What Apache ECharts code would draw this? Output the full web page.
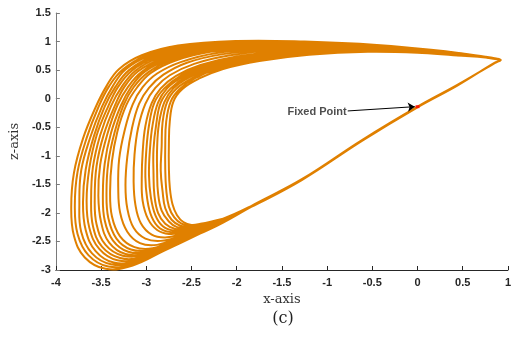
<!DOCTYPE html>
<html><head><meta charset="utf-8">
<script src="https://cdn.jsdelivr.net/npm/echarts/dist/echarts.min.js"></script>
<style>html,body{margin:0;padding:0;background:#fff}#c{width:514px;height:341px}</style>
</head><body><div id="c"></div>
<script>
// Loops of the trajectory (x, z), inner to outer
const loops = [
[[-2.15,-2.10],[-2.40,-2.19],[-2.50,-2.21],[-2.59,-2.16],[-2.66,-2.04],[-2.71,-1.85],[-2.74,-1.55],[-2.75,-1.20],[-2.75,-0.80],[-2.74,-0.40],[-2.70,-0.05],[-2.60,0.17],[-2.42,0.35],[-2.15,0.52],[-1.75,0.66],[-1.20,0.77],[-0.55,0.82],[0.05,0.80],[0.50,0.75]],
[[-2.15,-2.10],[-2.40,-2.20],[-2.51,-2.23],[-2.61,-2.19],[-2.69,-2.08],[-2.75,-1.89],[-2.78,-1.58],[-2.79,-1.23],[-2.79,-0.82],[-2.78,-0.41],[-2.73,-0.05],[-2.63,0.17],[-2.46,0.36],[-2.19,0.53],[-1.79,0.67],[-1.23,0.78],[-0.58,0.83],[0.03,0.81],[0.49,0.75]],
[[-2.15,-2.11],[-2.40,-2.20],[-2.52,-2.25],[-2.63,-2.22],[-2.72,-2.12],[-2.79,-1.92],[-2.82,-1.62],[-2.84,-1.26],[-2.83,-0.84],[-2.82,-0.42],[-2.77,-0.06],[-2.67,0.17],[-2.49,0.36],[-2.22,0.54],[-1.82,0.68],[-1.26,0.79],[-0.61,0.83],[0.01,0.81],[0.48,0.76]],
[[-2.15,-2.11],[-2.40,-2.21],[-2.54,-2.26],[-2.66,-2.25],[-2.75,-2.15],[-2.83,-1.96],[-2.87,-1.65],[-2.88,-1.28],[-2.88,-0.86],[-2.86,-0.44],[-2.80,-0.06],[-2.70,0.18],[-2.53,0.37],[-2.26,0.55],[-1.86,0.69],[-1.30,0.80],[-0.63,0.84],[-0.01,0.82],[0.48,0.76]],
[[-2.15,-2.11],[-2.40,-2.22],[-2.55,-2.28],[-2.68,-2.28],[-2.79,-2.19],[-2.87,-2.00],[-2.91,-1.69],[-2.92,-1.31],[-2.92,-0.88],[-2.89,-0.45],[-2.84,-0.07],[-2.73,0.18],[-2.56,0.38],[-2.29,0.56],[-1.89,0.70],[-1.33,0.81],[-0.66,0.85],[-0.03,0.82],[0.47,0.76]],
[[-2.15,-2.11],[-2.40,-2.22],[-2.56,-2.30],[-2.70,-2.31],[-2.82,-2.23],[-2.90,-2.04],[-2.95,-1.72],[-2.97,-1.34],[-2.96,-0.90],[-2.93,-0.46],[-2.87,-0.07],[-2.77,0.18],[-2.60,0.38],[-2.33,0.57],[-1.93,0.71],[-1.36,0.82],[-0.69,0.86],[-0.05,0.83],[0.46,0.77]],
[[-2.15,-2.12],[-2.40,-2.23],[-2.57,-2.32],[-2.72,-2.34],[-2.85,-2.27],[-2.94,-2.07],[-2.99,-1.75],[-3.01,-1.37],[-3.00,-0.92],[-2.97,-0.47],[-2.91,-0.07],[-2.80,0.18],[-2.63,0.39],[-2.37,0.58],[-1.97,0.72],[-1.39,0.83],[-0.72,0.86],[-0.07,0.83],[0.45,0.77]],
[[-2.15,-2.12],[-2.40,-2.24],[-2.58,-2.34],[-2.75,-2.37],[-2.88,-2.30],[-2.98,-2.11],[-3.04,-1.79],[-3.05,-1.40],[-3.04,-0.94],[-3.01,-0.48],[-2.94,-0.08],[-2.84,0.18],[-2.67,0.40],[-2.40,0.59],[-2.00,0.74],[-1.42,0.84],[-0.75,0.87],[-0.09,0.84],[0.44,0.77]],
[[-2.15,-2.13],[-2.40,-2.25],[-2.61,-2.37],[-2.79,-2.43],[-2.94,-2.38],[-3.06,-2.18],[-3.12,-1.86],[-3.14,-1.45],[-3.13,-0.98],[-3.09,-0.51],[-3.01,-0.09],[-2.90,0.19],[-2.74,0.41],[-2.47,0.61],[-2.07,0.76],[-1.49,0.86],[-0.80,0.88],[-0.13,0.85],[0.43,0.78]],
[[-2.15,-2.13],[-2.40,-2.26],[-2.63,-2.41],[-2.84,-2.49],[-3.01,-2.45],[-3.14,-2.26],[-3.21,-1.92],[-3.23,-1.51],[-3.21,-1.02],[-3.16,-0.53],[-3.08,-0.09],[-2.97,0.19],[-2.81,0.42],[-2.55,0.63],[-2.15,0.78],[-1.55,0.88],[-0.86,0.90],[-0.17,0.86],[0.41,0.79]],
[[-2.15,-2.14],[-2.40,-2.28],[-2.66,-2.44],[-2.88,-2.56],[-3.07,-2.53],[-3.21,-2.33],[-3.29,-1.99],[-3.31,-1.56],[-3.30,-1.06],[-3.24,-0.56],[-3.15,-0.10],[-3.04,0.20],[-2.88,0.44],[-2.62,0.64],[-2.22,0.80],[-1.62,0.89],[-0.91,0.91],[-0.21,0.87],[0.40,0.79]],
[[-2.15,-2.14],[-2.40,-2.29],[-2.68,-2.48],[-2.93,-2.62],[-3.13,-2.60],[-3.29,-2.41],[-3.38,-2.06],[-3.40,-1.62],[-3.38,-1.10],[-3.32,-0.58],[-3.22,-0.11],[-3.10,0.20],[-2.95,0.45],[-2.69,0.66],[-2.29,0.82],[-1.68,0.91],[-0.97,0.93],[-0.25,0.88],[0.38,0.80]],
[[-2.15,-2.14],[-2.40,-2.30],[-2.69,-2.50],[-2.95,-2.65],[-3.17,-2.64],[-3.33,-2.45],[-3.42,-2.09],[-3.44,-1.65],[-3.42,-1.12],[-3.35,-0.59],[-3.25,-0.11],[-3.14,0.20],[-2.98,0.46],[-2.73,0.67],[-2.33,0.83],[-1.71,0.92],[-1.00,0.94],[-0.27,0.89],[0.37,0.80]],
[[-2.15,-2.15],[-2.40,-2.31],[-2.70,-2.52],[-2.97,-2.68],[-3.20,-2.68],[-3.37,-2.48],[-3.46,-2.13],[-3.48,-1.68],[-3.46,-1.14],[-3.39,-0.60],[-3.28,-0.12],[-3.17,0.20],[-3.02,0.47],[-2.76,0.68],[-2.36,0.84],[-1.74,0.93],[-1.03,0.94],[-0.29,0.90],[0.36,0.80]],
[[-2.15,-2.15],[-2.40,-2.31],[-2.72,-2.53],[-2.99,-2.71],[-3.23,-2.72],[-3.41,-2.52],[-3.50,-2.16],[-3.53,-1.70],[-3.51,-1.16],[-3.43,-0.62],[-3.32,-0.12],[-3.20,0.21],[-3.05,0.47],[-2.80,0.69],[-2.40,0.85],[-1.78,0.94],[-1.05,0.95],[-0.31,0.90],[0.36,0.81]],
[[-2.15,-2.15],[-2.40,-2.32],[-2.73,-2.55],[-3.02,-2.74],[-3.26,-2.75],[-3.45,-2.56],[-3.55,-2.20],[-3.57,-1.73],[-3.55,-1.18],[-3.47,-0.63],[-3.35,-0.13],[-3.24,0.21],[-3.09,0.48],[-2.83,0.70],[-2.43,0.87],[-1.81,0.95],[-1.08,0.96],[-0.33,0.91],[0.35,0.81]],
[[-2.15,-2.16],[-2.40,-2.33],[-2.74,-2.57],[-3.04,-2.77],[-3.29,-2.79],[-3.49,-2.59],[-3.59,-2.23],[-3.61,-1.76],[-3.59,-1.20],[-3.51,-0.64],[-3.39,-0.13],[-3.27,0.21],[-3.12,0.49],[-2.87,0.71],[-2.47,0.88],[-1.84,0.96],[-1.11,0.96],[-0.35,0.91],[0.34,0.81]],
[[-2.15,-2.16],[-2.40,-2.33],[-2.75,-2.59],[-3.06,-2.80],[-3.32,-2.83],[-3.52,-2.63],[-3.63,-2.26],[-3.66,-1.79],[-3.63,-1.22],[-3.55,-0.65],[-3.42,-0.13],[-3.31,0.21],[-3.16,0.49],[-2.91,0.72],[-2.51,0.89],[-1.87,0.97],[-1.14,0.97],[-0.37,0.92],[0.33,0.82]],
[[-2.15,-2.16],[-2.40,-2.34],[-2.76,-2.61],[-3.08,-2.83],[-3.36,-2.87],[-3.56,-2.67],[-3.67,-2.30],[-3.70,-1.82],[-3.67,-1.24],[-3.58,-0.66],[-3.46,-0.14],[-3.34,0.21],[-3.19,0.50],[-2.94,0.73],[-2.54,0.90],[-1.90,0.98],[-1.17,0.98],[-0.39,0.92],[0.32,0.82]],
[[-2.15,-2.16],[-2.40,-2.35],[-2.78,-2.62],[-3.11,-2.86],[-3.39,-2.90],[-3.60,-2.71],[-3.72,-2.33],[-3.74,-1.84],[-3.72,-1.26],[-3.62,-0.68],[-3.49,-0.14],[-3.37,0.22],[-3.23,0.51],[-2.98,0.74],[-2.58,0.91],[-1.94,0.99],[-1.19,0.99],[-0.41,0.93],[0.32,0.82]],
[[-2.15,-2.17],[-2.40,-2.35],[-2.79,-2.64],[-3.13,-2.89],[-3.42,-2.94],[-3.64,-2.74],[-3.76,-2.37],[-3.79,-1.87],[-3.76,-1.28],[-3.66,-0.69],[-3.53,-0.15],[-3.41,0.22],[-3.26,0.51],[-3.01,0.75],[-2.61,0.92],[-1.97,1.00],[-1.22,0.99],[-0.43,0.93],[0.31,0.83]],
[[-2.15,-2.17],[-2.40,-2.36],[-2.80,-2.66],[-3.15,-2.92],[-3.45,-2.98],[-3.68,-2.78],[-3.80,-2.40],[-3.83,-1.90],[-3.80,-1.30],[-3.70,-0.70],[-3.56,-0.15],[-3.44,0.22],[-3.30,0.52],[-3.05,0.76],[-2.65,0.93],[-2.00,1.01],[-1.25,1.00],[-0.45,0.94],[0.30,0.83]]
];
// Shared return path: corner and diagonal band (two slightly offset passes)
const returnA = [[0.75,0.72],[0.88,0.69],[0.91,0.67],[0.84,0.61],[0.44,0.24],[0.00,-0.14],[-0.61,-0.72],[-1.28,-1.41],[-1.84,-1.88]];
const returnB = [[0.75,0.735],[0.88,0.70],[0.92,0.675],[0.85,0.625],[0.44,0.228],[0.00,-0.152],[-0.61,-0.735],[-1.28,-1.425],[-1.84,-1.895]];
const fixedPoint = [[0.00,-0.14]];
const arrowFrom = [-0.772,-0.215];
const arrowTo = [-0.03,-0.14];
const annotationText = 'Fixed Point';
const xTickLabels = ['-4','-3.5','-3','-2.5','-2','-1.5','-1','-0.5','0','0.5','1'];
const yTickLabels = ['-3','-2.5','-2','-1.5','-1','-0.5','0','0.5','1','1.5'];

const traj = [];
loops.forEach((l, i) => { traj.push(...l, ...(i % 2 ? returnB : returnA)); });

const chart = echarts.init(document.getElementById('c'), null, {renderer: 'canvas'});
const tickFont = {fontFamily: 'Liberation Sans', fontWeight: 'bold', fontSize: 11, color: '#262626'};
chart.setOption({
  animation: false,
  grid: {left: 52, right: 3, top: 13, bottom: 71, containLabel: false},
  xAxis: {
    type: 'value', min: -4, max: 1, interval: 0.5,
    axisLine: {show: true, onZero: false, lineStyle: {color: '#262626', width: 1}},
    axisTick: {show: true, inside: true, length: 4, lineStyle: {color: '#262626'}},
    axisLabel: Object.assign({margin: 7, formatter: v => xTickLabels[Math.round((v + 4) / 0.5)]}, tickFont),
    splitLine: {show: false},
    name: 'x-axis', nameLocation: 'middle', nameGap: 19,
    nameTextStyle: {fontFamily: 'DejaVu Serif', fontSize: 13, color: '#333'}
  },
  yAxis: {
    type: 'value', min: -3, max: 1.5, interval: 0.5,
    axisLine: {show: true, onZero: false, lineStyle: {color: '#7a7a7a', width: 1}},
    axisTick: {show: true, inside: true, length: 4, lineStyle: {color: '#7a7a7a'}},
    axisLabel: Object.assign({margin: 5, formatter: v => yTickLabels[Math.round((v + 3) / 0.5)]}, tickFont),
    splitLine: {show: false},
    name: 'z-axis', nameLocation: 'middle', nameGap: 27, nameRotate: 90,
    nameTextStyle: {fontFamily: 'DejaVu Serif', fontSize: 13, color: '#333'}
  },
  graphic: [{type: 'text', x: 283, y: 319, style: {text: '(c)', font: '16px "DejaVu Serif"', fill: '#222', textAlign: 'center', textVerticalAlign: 'middle'}}],
  series: [
    {type: 'custom', coordinateSystem: 'cartesian2d', data: traj, encode: {x: 0, y: 1}, z: 2, silent: true,
     renderItem: function (params, api) {
       if (params.dataIndex !== 0) return null;
       const pts = traj.map(p => api.coord(p));
       return {type: 'polyline', silent: true,
               shape: {points: pts, smooth: 0.4},
               style: {stroke: '#e08000', lineWidth: 2.0, fill: 'none'}};
     }},
    {type: 'scatter', data: fixedPoint, symbol: 'rect', symbolSize: [4, 3],
     itemStyle: {color: '#ff0000'}, z: 5, silent: true},
    {type: 'scatter', data: [arrowFrom], symbolSize: 0, z: 6, silent: true,
     label: {show: true, position: 'left', distance: 1, formatter: annotationText,
             fontFamily: 'Liberation Sans', fontWeight: 'bold', fontSize: 11, color: '#222', offset: [0, 1]},
     markLine: {silent: true, symbol: ['none', 'arrow'], symbolSize: 7, animation: false,
       lineStyle: {color: '#000', width: 1, type: 'solid'}, label: {show: false},
       data: [[{coord: arrowFrom}, {coord: arrowTo}]]}}
  ]
});
</script></body></html>
